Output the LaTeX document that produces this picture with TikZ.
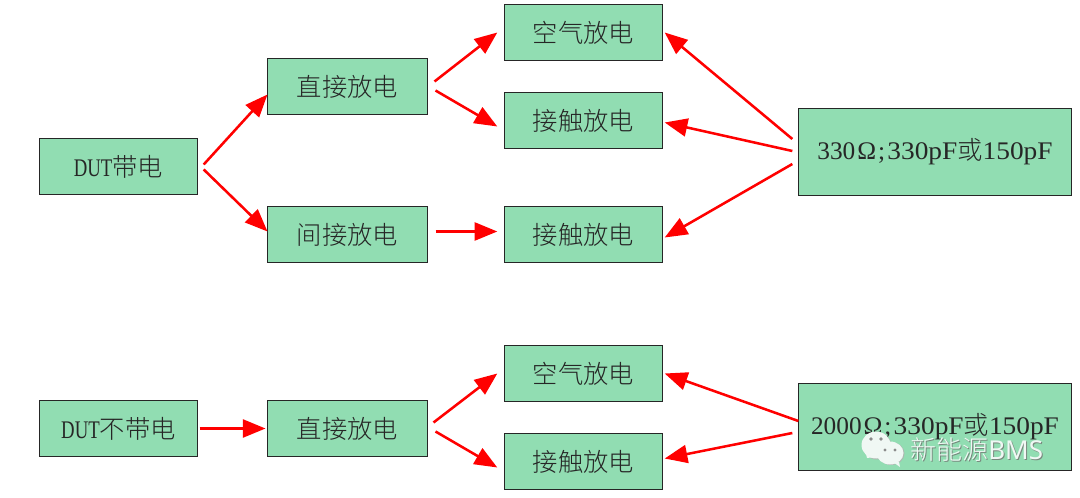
\documentclass[tikz,border=0pt]{standalone}
\usepackage{fontspec}
\usetikzlibrary{arrows.meta,calc}
\setmainfont{Liberation Serif}
\newfontfamily\cjkl{Noto Sans CJK SC Light}
\newfontfamily\wmsans{Noto Sans}
\definecolor{boxgreen}{RGB}{145,221,178}
\definecolor{arrowred}{RGB}{255,0,0}
\definecolor{bubble}{RGB}{240,248,244}
\definecolor{wmgrey}{RGB}{120,135,125}
\newcommand{\zh}[1]{{\cjkl #1}}
\newcommand{\narrow}[1]{\scalebox{0.74}[1]{#1}}
\newcommand{\omsemi}{\makebox[17pt][c]{Ω}\makebox[7pt][l]{;}}
\newcommand{\wider}[1]{\scalebox{1.08}[1]{#1}}
\tikzset{
  box/.style={draw=black!85,fill=boxgreen,line width=0.7pt,inner sep=0pt,outer sep=0pt,
    minimum width=118.8pt,minimum height=41.6pt,font=\fontsize{19}{20}\selectfont,text=black!85},
  wide/.style={box,minimum width=205pt,minimum height=64.8pt},
  arr/.style={draw=arrowred,line width=1.9pt,-{Triangle[length=17pt,width=13.5pt]}},
  wmtext/.style={inner sep=0pt,anchor=west,font=\fontsize{19.5}{22}\selectfont}
}
\begin{document}
\begin{tikzpicture}[x=0.75pt,y=-0.75pt]
\useasboundingbox (0,0) rectangle (1080,498);
\fill[white] (0,0) rectangle (1080,498);
% top group
\node[box] (dut) at (118.5,166.5) {\narrow{DUT}\zh{带电}};
\node[box,minimum width=120pt] (direct) at (347.5,86.5) {\zh{直接放电}};
\node[box,minimum width=120pt] (indirect) at (347.5,234.5) {\zh{间接放电}};
\node[box] (air) at (583.5,32.5) {\zh{空气放电}};
\node[box] (contact) at (583.5,120.5) {\zh{接触放电}};
\node[box] (contactb) at (583.5,234.5) {\zh{接触放电}};
\node[wide] (rone) at (935,152) {330\omsemi\wider{330pF}\zh{或}\wider{150pF}};
% bottom group
\node[box] (dutb) at (118.5,428.5) {\narrow{DUT}\zh{不带电}};
\node[box,minimum width=120pt] (directb) at (347.5,428.5) {\zh{直接放电}};
\node[box] (airb) at (583.5,373.5) {\zh{空气放电}};
\node[box] (contactc) at (583.5,461.5) {\zh{接触放电}};
\node[wide] (rtwo) at (935,427) {2000\omsemi\wider{330pF}\zh{或}\wider{150pF}};
% connectors
\draw[arr] ($(dut.east)+(6,-2)$) -- ($(direct.west)+(0,8)$);
\draw[arr] ($(dut.east)+(6,3)$) -- ($(indirect.west)+(0,-3)$);
\draw[arr] ($(direct.east)+(7,-5)$) -- ($(air.west)+(-7,0)$);
\draw[arr] ($(direct.east)+(8,4)$) -- ($(contact.west)+(-7,6)$);
\draw[arr] ($(indirect.east)+(8,-3)$) -- ($(contactb.west)+(-7,-3)$);
\draw[arr] ($(rone.west)+(-6,-13)$) -- ($(air.east)+(2,0)$);
\draw[arr] ($(rone.west)+(-6,-1)$) -- ($(contact.east)+(2,2)$);
\draw[arr] ($(rone.west)+(-6,12)$) -- ($(contactb.east)+(2,3)$);
\draw[arr] ($(dutb.east)+(2,0)$) -- ($(directb.west)+(-2,0)$);
\draw[arr] ($(directb.east)+(6,-6)$) -- ($(airb.west)+(-7,0)$);
\draw[arr] ($(directb.east)+(8,3)$) -- ($(contactc.west)+(-7,6)$);
\draw[arr] ($(rtwo.west)+(0,-6)$) -- ($(airb.east)+(2,0)$);
\draw[arr] ($(rtwo.west)+(-6,6)$) -- ($(contactc.east)+(2,-3)$);
% watermark
\fill[wmgrey!60] (877,446) ellipse (14.5 and 13.5);
\fill[bubble] (876,445) ellipse (14.5 and 13.5);
\fill[bubble] (866,454) -- (874,457) -- (867,458) -- cycle;
\fill[wmgrey!60] (891,453.5) ellipse (13.5 and 11.5);
\fill[bubble] (890,453) ellipse (13.5 and 11.5);
\fill[bubble] (893,462) -- (899,462) -- (900,467) -- cycle;
\fill[black!45] (871,439) circle (1.8) (881,439) circle (1.8);
\fill[black!45] (885,450) circle (1.6) (895,450) circle (1.6);
\node[wmtext,text=wmgrey] (wmshadow) at (911,451) {\cjkl 新能源\wmsans BMS};
\node[wmtext,text=bubble] (wm) at (910,450) {\cjkl 新能源\wmsans BMS};
\end{tikzpicture}
\end{document}
